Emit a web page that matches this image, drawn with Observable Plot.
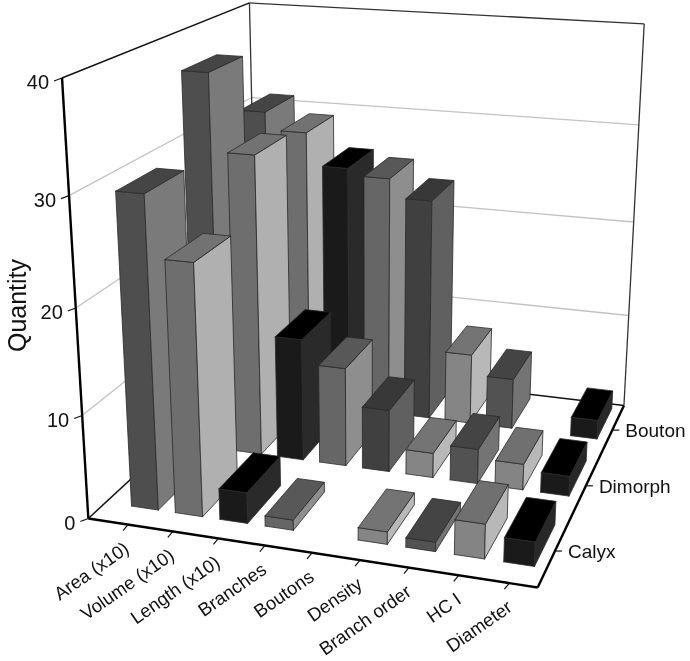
<!DOCTYPE html>
<html><head><meta charset="utf-8">
<script src="https://cdn.jsdelivr.net/npm/d3@7"></script>
<script src="https://cdn.jsdelivr.net/npm/@observablehq/plot@0.6"></script>
<style>html,body{margin:0;background:#fff}svg{display:block;filter:blur(0.35px)}</style>
</head><body><div id="chart"></div>
<script>
const categories = ["Area (x10)","Volume (x10)","Length (x10)","Branches","Boutons","Density","Branch order","HC I","Diameter"];
const seriesNames = ["Calyx","Dimorph","Bouton"];
const calyx   = [29.7, 24, 3, 1, 0, 1.2, 0.9, 3.3, 2.3];
const dimorph = [37.4, 30, 12.4, 10, 6.3, 2.5, 3.5, 2.6, 2];
const bouton  = [30.8, 29, 25.7, 25, 23.1, 7.4, 5.3, 0, 2];
const values = [calyx, dimorph, bouton];
const ticksZ = [0,10,20,30,40];
// face tones per category: [front, side, top]
const tones = [
  ["#4e4e4e","#7a7a7a","#454545"],
  ["#6e6e6e","#b0b0b0","#727272"],
  ["#1a1a1a","#2a2a2a","#000000"],
  ["#666666","#8e8e8e","#585858"],
  ["#404040","#606060","#383838"],
  ["#858585","#b8b8b8","#747474"],
  ["#525252","#747474","#444444"],
  ["#848484","#b8b8b8","#707070"],
  ["#1a1a1a","#282828","#000000"]
];
// camera calibration anchors: box coordinates (u,v,w) -> picture position
const anchors=[
  [0,0,0,87,518],[1,0,0,537,586],[1,1,0,624,406],[0,1,0,257,360],
  [0,0,1,61,78],[0,1,1,249,3],[1,1,1,644,23],
  [0,0,.25,82,417],[0,0,.5,77,308],[0,0,.75,68,193],
  [1,1,.25,628,315],[1,1,.5,633,222],[1,1,.75,638,124]
];
const view=(()=>{
  const rows=[],rhs=[];
  anchors.forEach(([u,v,w,x,y])=>{
    rows.push([u,v,w,1,0,0,0,0,-x*u,-x*v,-x*w]);rhs.push(x);
    rows.push([0,0,0,0,u,v,w,1,-y*u,-y*v,-y*w]);rhs.push(y);
  });
  const n=11,M=d3.range(n).map(i=>[...d3.range(n).map(j=>d3.sum(rows,r=>r[i]*r[j])),d3.sum(rows,(r,k)=>r[i]*rhs[k])]);
  for(let i=0;i<n;i++){
    let m=i;for(let k=i+1;k<n;k++)if(Math.abs(M[k][i])>Math.abs(M[m][i]))m=k;
    [M[i],M[m]]=[M[m],M[i]];
    for(let k=0;k<n;k++)if(k!==i){const f=M[k][i]/M[i][i];for(let j=i;j<=n;j++)M[k][j]-=f*M[i][j];}
  }
  const P=M.map((r,i)=>r[n]/r[i]);
  return (u,v,w)=>{const d=P[8]*u+P[9]*v+P[10]*w+1;return [(P[0]*u+P[1]*v+P[2]*w+P[3])/d,(P[4]*u+P[5]*v+P[6]*w+P[7])/d];};
})();
const zMax=40;
const colU=i=>(i+0.9)/9.45, halfU=0.0325;
const rowV=[0.185,0.535,0.87], halfV=0.1;
const tickV=[0.165,0.50,0.835];
const pt=(u,v,val)=>view(u,v,val/zMax);

// faces
const faces=[];
[2,1,0].forEach(j=>categories.forEach((cat,i)=>{
  const val=values[j][i]; if(!val) return;
  const u0=colU(i)-halfU,u1=colU(i)+halfU,v0=rowV[j]-halfV,v1=rowV[j]+halfV;
  const add=(name,tone,corners)=>{
    const id=`${j}-${i}-${name}`;
    [...corners,corners[0]].forEach(c=>{const [x,y]=pt(...c);faces.push({id,x,y,tone});});
  };
  add("front",tones[i][0],[[u0,v0,0],[u1,v0,0],[u1,v0,val],[u0,v0,val]]);
  add("side",tones[i][1],[[u1,v0,0],[u1,v1,0],[u1,v1,val],[u1,v0,val]]);
  add("top",tones[i][2],[[u0,v0,val],[u1,v0,val],[u1,v1,val],[u0,v1,val]]);
}));

const seg=(a,b,extra={})=>({x1:a[0],y1:a[1],x2:b[0],y2:b[1],...extra});
const grid=ticksZ.slice(1,4).flatMap(z=>[seg(pt(0,0,z),pt(0,1,z)),seg(pt(0,1,z),pt(1,1,z))]);
const frameThin=[seg(pt(0,1,0),pt(0,1,40)),seg(pt(0,1,40),pt(1,1,40)),seg(pt(1,1,0),pt(1,1,40))];
const frameFloor=[seg(pt(0,0,0),pt(0,1,0)),seg(pt(0,1,0),pt(1,1,0)),seg(pt(0,0,40),pt(0,1,40))];
const frameThick=[seg(pt(0,0,0),pt(1,0,0)),seg(pt(1,0,0),pt(1,1,0)),seg(pt(0,0,0),pt(0,0,40))];
const zTicks=ticksZ.map(z=>{const p=pt(0,0,z);return {...seg(p,[p[0]-8,p[1]+3]),label:String(z),lx:p[0]-13,ly:p[1]+5};});
const xTicks=categories.map((c,i)=>{const p=pt(colU(i),0,0);return {...seg(p,[p[0]-5,p[1]+6]),label:c,lx:p[0]-1+i*0.2,ly:p[1]+22};});
const sTicks=seriesNames.map((s,j)=>{const p=pt(1,tickV[j],0);return {...seg(p,[p[0]+7,p[1]]),label:s,lx:p[0]+13,ly:p[1]+1};});

const font="Liberation Sans, Arial, sans-serif";
const plot=Plot.plot({
  width:690,height:661,margin:0,
  x:{domain:[0,690],range:[0,690],axis:null},
  y:{domain:[0,661],range:[0,661],axis:null},
  color:{type:"identity"},
  style:{background:"#fff",fontFamily:font},
  marks:[
    Plot.link(grid,{x1:"x1",y1:"y1",x2:"x2",y2:"y2",stroke:"#c2c2c2",strokeWidth:1.3}),
    Plot.link(frameThin,{x1:"x1",y1:"y1",x2:"x2",y2:"y2",stroke:"#333",strokeWidth:1.3}),
    Plot.link(frameFloor,{x1:"x1",y1:"y1",x2:"x2",y2:"y2",stroke:"#111",strokeWidth:1.5}),
    Plot.link(frameThick,{x1:"x1",y1:"y1",x2:"x2",y2:"y2",stroke:"#000",strokeWidth:2.4}),
    Plot.link([...zTicks,...xTicks,...sTicks],{x1:"x1",y1:"y1",x2:"x2",y2:"y2",stroke:"#111",strokeWidth:1.2}),
    Plot.line(faces,{x:"x",y:"y",z:"id",fill:"tone",stroke:"#2a2a2a",strokeWidth:0.8,strokeLinejoin:"round",curve:"linear"}),
    Plot.text(zTicks,{x:"lx",y:"ly",text:"label",textAnchor:"end",fontSize:20,fill:"#111"}),
    Plot.text(xTicks,{x:"lx",y:"ly",text:"label",textAnchor:"end",rotate:-35,fontSize:18.5,fill:"#111"}),
    Plot.text(sTicks,{x:"lx",y:"ly",text:"label",textAnchor:"start",fontSize:19,fill:"#111"}),
    Plot.text(["Quantity"],{x:[17],y:[305],text:d=>d,rotate:-90,fontSize:25,fill:"#111"})
  ]
});
document.getElementById("chart").append(plot);
</script></body></html>
